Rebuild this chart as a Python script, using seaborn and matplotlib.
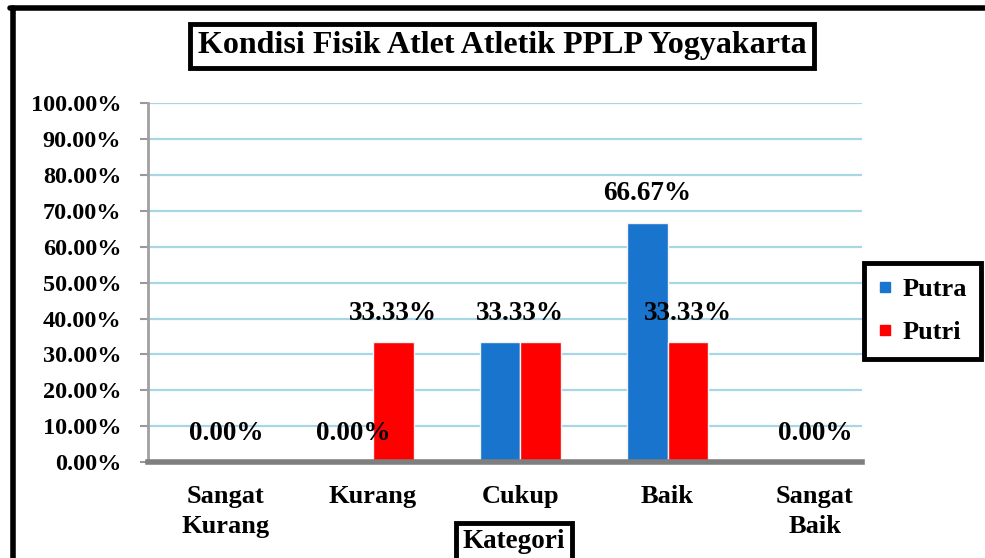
import numpy as np
import matplotlib.pyplot as plt
from matplotlib.ticker import FuncFormatter
from matplotlib.lines import Line2D
import pandas as pd
import seaborn as sns

# data
kategori = ['Sangat\nKurang', 'Kurang', 'Cukup', 'Baik', 'Sangat\nBaik']
putra = [0.00, 0.00, 33.33, 66.67, 0.00]
putri = [0.00, 33.33, 33.33, 33.33, 0.00]
seri = ['Putra', 'Putri']
warna = {'Putra': '#1874cd', 'Putri': '#ff0000'}

df = pd.DataFrame({
    'Kategori': kategori * 2,
    'Jenis': ['Putra'] * len(kategori) + ['Putri'] * len(kategori),
    'Nilai': putra + putri,
})

sns.set_style('white')
plt.rcParams['font.family'] = ['Liberation Serif', 'DejaVu Serif']
plt.rcParams['font.weight'] = 'bold'
plt.rcParams['text.color'] = 'black'
plt.rcParams['xtick.color'] = 'black'
plt.rcParams['ytick.color'] = 'black'

fig = plt.figure(figsize=(9.85, 5.58), dpi=100)
ax = fig.add_axes([0.150, 0.172, 0.725, 0.643])

lebar = 0.55
sns.barplot(data=df, x='Kategori', y='Nilai', hue='Jenis', hue_order=seri,
            order=kategori, palette=warna, saturation=1, width=lebar, gap=0,
            edgecolor='#f2f2f2', linewidth=1, legend=False, ax=ax)

ax.set_ylim(0, 100)
ax.set_xlim(-0.53, 4.32)
ax.set_yticks(np.arange(0, 101, 10))
ax.yaxis.set_major_formatter(FuncFormatter(lambda v, _: f'{v:.2f}%'))
ax.yaxis.grid(True, color='#a9d6e5', lw=1.6)
ax.set_axisbelow(True)
ax.set_xlabel('')
ax.set_ylabel('')

for s in ['top', 'right']:
    ax.spines[s].set_visible(False)
ax.spines['left'].set_color('#a0a0a0')
ax.spines['left'].set_linewidth(2)
ax.spines['bottom'].set_color('#7f7f7f')
ax.spines['bottom'].set_linewidth(4)

ax.tick_params(axis='y', left=True, length=6, width=1.5, color='#999999',
               labelcolor='black', pad=13, labelsize=17.5)
ax.tick_params(axis='x', bottom=False, pad=13, labelsize=19, labelcolor='black')
for t in ax.get_xticklabels() + ax.get_yticklabels():
    t.set_fontweight('bold')
for t in ax.get_xticklabels():
    t.set_linespacing(1.4)

# label nilai
geser = lebar / 4
for i in range(len(kategori)):
    if putra[i] == putri[i]:
        pos = [(i, putra[i])]
    else:
        pos = [(i - geser, putra[i]), (i + geser, putri[i])]
    for x, v in pos:
        ax.annotate(f'{v:.2f}%', (x, v), xytext=(0, 29), textcoords='offset pixels',
                    ha='center', va='center', fontsize=19.5, fontweight='bold',
                    color='black')

# judul
fig.text(502 / 985, 1 - 46 / 558, 'Kondisi Fisik Atlet Atletik PPLP Yogyakarta',
         ha='center', va='center', fontsize=23, fontweight='bold', color='black',
         bbox=dict(boxstyle='square,pad=0.25', fc='white', ec='black', lw=3.5))

fig.text(514 / 985, 1 - 542 / 558, 'Kategori', ha='center', va='center',
         fontsize=19.5, fontweight='bold', color='black',
         bbox=dict(boxstyle='square,pad=0.25', fc='white', ec='black', lw=3.5))

# legenda
handles = [Line2D([], [], marker='s', ls='', color=warna[s], markersize=7) for s in seri]
leg = fig.legend(handles, seri, loc='upper left', bbox_to_anchor=(864 / 985, 1 - 263 / 558),
                 borderaxespad=0, frameon=True, fancybox=False, edgecolor='black',
                 framealpha=1, shadow=False,
                 handlelength=0.5, handletextpad=0.4, labelspacing=0.75, borderpad=0.55,
                 prop={'size': 19, 'weight': 'bold'})
leg.get_frame().set_linewidth(3.5)
for t in leg.get_texts():
    t.set_color('black')

# bingkai luar
fig.add_artist(Line2D([12.5 / 985, 12.5 / 985], [0, 1 - 8 / 558], transform=fig.transFigure,
                      color='black', lw=4))
fig.add_artist(Line2D([10 / 985, 1], [1 - 8 / 558, 1 - 8 / 558], transform=fig.transFigure,
                      color='black', lw=4))

fig.savefig('out.png', dpi=100)
